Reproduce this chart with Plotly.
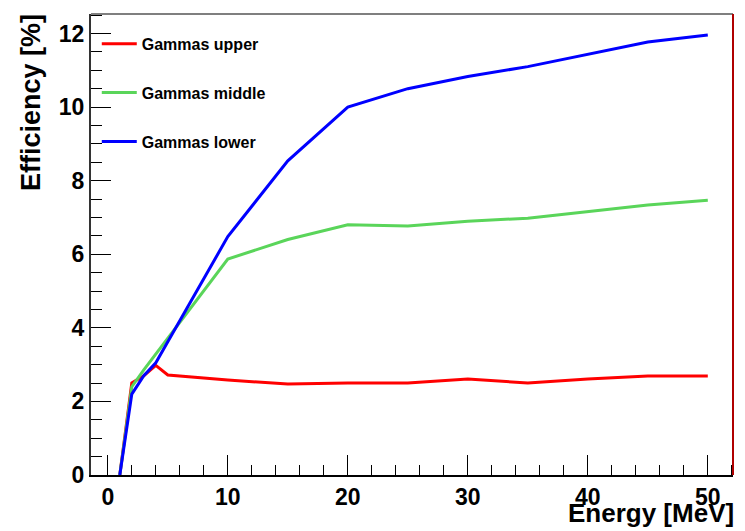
import plotly.graph_objects as go

# Photon detection efficiency versus energy for three detector layers
energy = [1, 2, 3, 4, 5, 10, 15, 20, 25, 30, 35, 40, 45, 50]
eff_upper = [0.0, 2.5, 2.7, 2.98, 2.72, 2.58, 2.47, 2.5, 2.5, 2.61, 2.5, 2.61, 2.69, 2.69]
eff_middle = [0.0, 2.4, 2.86, 3.29, 3.72, 5.87, 6.4, 6.8, 6.77, 6.9, 6.98, 7.17, 7.34, 7.47]
eff_lower = [0.0, 2.2, 2.7, 3.05, 3.62, 6.48, 8.54, 10.0, 10.5, 10.83, 11.1, 11.44, 11.77, 11.96]

series_names = ["Gammas upper", "Gammas middle", "Gammas lower"]
series_colors = ["#ff0000", "#5ad55a", "#0000ff"]

FONT = "Liberation Sans, Arial, Helvetica, sans-serif"

fig = go.Figure()
for name, vals, col in zip(series_names, [eff_upper, eff_middle, eff_lower], series_colors):
    fig.add_trace(go.Scatter(
        x=energy, y=vals, mode="lines", name=name, legendgroup=name,
        line=dict(color=col, width=3),
    ))

fig.update_layout(
    width=745, height=531,
    margin=dict(l=91, r=12, t=14, b=56),
    paper_bgcolor="white", plot_bgcolor="white",
    showlegend=True,
    legend=dict(
        x=0.009, y=0.972, xanchor="left", yanchor="top",
        font=dict(family=FONT, size=16, color="black", weight="bold"),
        bgcolor="rgba(0,0,0,0)", borderwidth=0,
        tracegroupgap=25, itemwidth=35,
    ),
    xaxis=dict(
        range=[-1.4, 52.1], dtick=10, tick0=0,
        ticks="inside", ticklen=20, tickwidth=1, tickcolor="black",
        minor=dict(dtick=2, ticks="inside", ticklen=10, tickcolor="black", tickwidth=1),
        showgrid=False, zeroline=False,
        showline=True, linecolor="black", linewidth=2,
        tickfont=dict(family=FONT, size=23, color="black", weight="bold"),
    ),
    yaxis=dict(
        range=[0, 12.53], dtick=2, tick0=0,
        ticks="inside", ticklen=20, tickwidth=1, tickcolor="black",
        minor=dict(dtick=0.5, ticks="inside", ticklen=11, tickcolor="black", tickwidth=1),
        showgrid=False, zeroline=False,
        showline=True, linecolor="#333333", linewidth=2,
        tickfont=dict(family=FONT, size=23, color="black", weight="bold"),
    ),
    shapes=[
        dict(type="line", xref="paper", yref="paper", x0=0, x1=1, y0=1, y1=1,
             line=dict(color="#7f7f7f", width=2)),
        dict(type="line", xref="paper", yref="paper", x0=1, x1=1, y0=0, y1=1,
             line=dict(color="#b00000", width=2)),
    ],
    annotations=[
        dict(text="<b>Energy [MeV]</b>", xref="paper", yref="paper",
             x=1, y=0, xanchor="right", yanchor="top", yshift=-21, xshift=3,
             showarrow=False, font=dict(family=FONT, size=26, color="black")),
        dict(text="<b>Efficiency [%]</b>", xref="paper", yref="paper",
             x=0, y=1, xanchor="center", yanchor="top", xshift=-60.5, yshift=2,
             textangle=-90, showarrow=False,
             font=dict(family=FONT, size=27, color="black")),
    ],
)

fig.write_html("out.html")
